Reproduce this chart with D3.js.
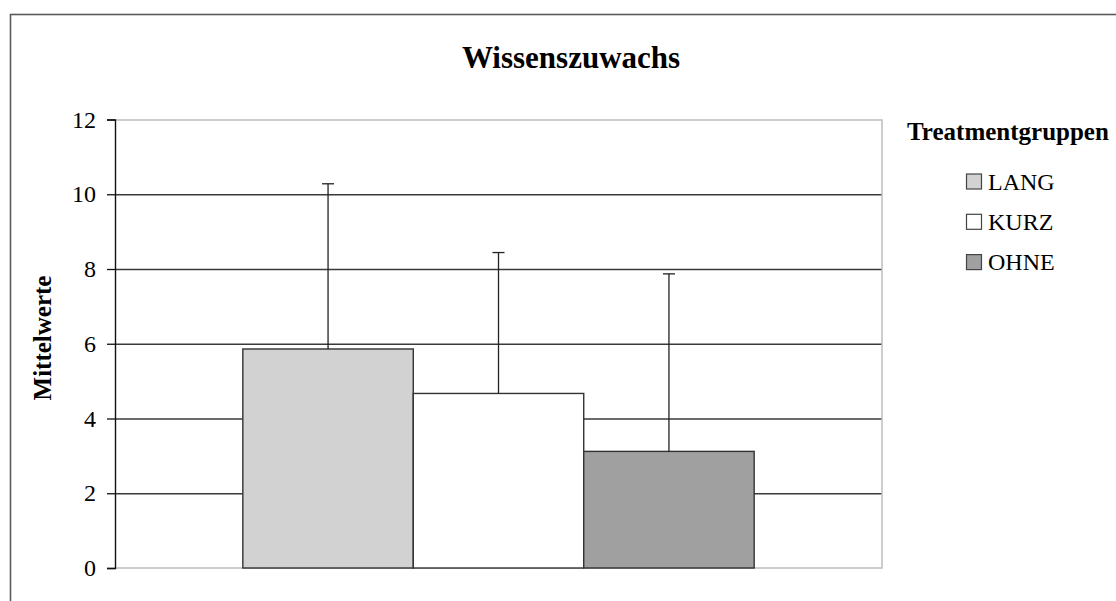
<!DOCTYPE html>
<html>
<head>
<meta charset="utf-8">
<script src="https://cdn.jsdelivr.net/npm/d3@7"></script>
<style>
  body { margin: 0; background: #fff; }
  svg { display: block; font-family: "Liberation Serif", "Times New Roman", serif; }
</style>
</head>
<body>
<script>
// Data
const groups = ["LANG", "KURZ", "OHNE"];
const means = [5.86, 4.67, 3.12];
const sdUpper = [10.28, 8.44, 7.87];
const fills = ["#d2d2d2", "#ffffff", "#a0a0a0"];
const yTicks = [0, 2, 4, 6, 8, 10, 12];

const W = 1116, H = 601;
const margin = {top: 119.5, right: 234, bottom: 33, left: 115};
const width = W - margin.left - margin.right,
      height = H - margin.top - margin.bottom;

const svg = d3.select("body").append("svg")
              .attr("width", W)
              .attr("height", H);

// outer chart frame (runs off the right and bottom of the picture)
svg.append("rect")
   .attr("x", 10.5).attr("y", 14.5)
   .attr("width", W + 20).attr("height", H + 20)
   .attr("fill", "none")
   .attr("stroke", "#5a5a5a")
   .attr("stroke-width", 1.6);

const g = svg.append("g")
             .attr("transform", `translate(${margin.left},${margin.top})`);

let yScale = d3.scaleLinear()
               .domain([0, 12])
               .range([height, 0]);

let x0 = d3.scaleBand()
           .domain(["Wissenszuwachs"])
           .range([0, width])
           .paddingInner(0)
           .paddingOuter(0.25);

let x1 = d3.scaleBand()
           .domain(groups)
           .range([0, x0.bandwidth()]);

// gridlines
let grid = g.append("g")
            .call(d3.axisLeft(yScale).tickValues(yTicks.slice(1, -1)).tickSize(-width).tickFormat(""));
grid.select(".domain").remove();
grid.selectAll(".tick line")
    .attr("stroke", "#3a3a3a")
    .attr("stroke-width", 1.3);

// plot border (top, right, bottom in grey)
g.append("path")
 .attr("d", `M0,0.5H${width}V${height}H0`)
 .attr("fill", "none")
 .attr("stroke", "#bdbdbd")
 .attr("stroke-width", 1.5);

// bars
const bx = x0("Wissenszuwachs");
g.selectAll("rect.bar")
 .data(groups)
 .join("rect")
 .attr("class", "bar")
 .attr("x", d => bx + x1(d))
 .attr("width", x1.bandwidth())
 .attr("y", (d, i) => yScale(means[i]))
 .attr("height", (d, i) => height - yScale(means[i]))
 .attr("fill", (d, i) => fills[i])
 .attr("stroke", "#333")
 .attr("stroke-width", 1.4);

// error bars (upper only)
const err = g.selectAll("g.err")
             .data(groups)
             .join("g")
             .attr("class", "err");
err.append("line")
   .attr("x1", d => bx + x1(d) + x1.bandwidth() / 2)
   .attr("x2", d => bx + x1(d) + x1.bandwidth() / 2)
   .attr("y1", (d, i) => yScale(means[i]))
   .attr("y2", (d, i) => yScale(sdUpper[i]))
   .attr("stroke", "#222")
   .attr("stroke-width", 1.3);
err.append("line")
   .attr("x1", d => bx + x1(d) + x1.bandwidth() / 2 - 6)
   .attr("x2", d => bx + x1(d) + x1.bandwidth() / 2 + 6)
   .attr("y1", (d, i) => yScale(sdUpper[i]))
   .attr("y2", (d, i) => yScale(sdUpper[i]))
   .attr("stroke", "#222")
   .attr("stroke-width", 1.3);

// y axis
let yAxis = g.append("g")
             .call(d3.axisLeft(yScale).tickValues(yTicks).tickSize(8).tickPadding(11));
yAxis.select(".domain")
     .attr("stroke", "#111")
     .attr("stroke-width", 1.4);
yAxis.selectAll(".tick line")
     .attr("stroke", "#111")
     .attr("stroke-width", 1.3);
yAxis.selectAll(".tick text")
     .attr("font-size", 24)
     .attr("font-family", "Liberation Serif, serif")
     .attr("fill", "#000");

// title
svg.append("text")
   .attr("x", 571).attr("y", 68)
   .attr("text-anchor", "middle")
   .attr("font-size", 31)
   .attr("font-weight", "bold")
   .text("Wissenszuwachs");

// y label
svg.append("text")
   .attr("transform", "translate(51,338) rotate(-90)")
   .attr("text-anchor", "middle")
   .attr("font-size", 25)
   .attr("font-weight", "bold")
   .text("Mittelwerte");

// legend
const legend = svg.append("g");
legend.append("text")
      .attr("x", 907).attr("y", 139.5)
      .attr("font-size", 25)
      .attr("font-weight", "bold")
      .text("Treatmentgruppen");

const item = legend.selectAll("g.item")
                   .data(groups)
                   .join("g")
                   .attr("class", "item")
                   .attr("transform", (d, i) => `translate(966,${189.5 + i * 40.3})`);
item.append("rect")
    .attr("x", 0.5).attr("y", -15.5)
    .attr("width", 15).attr("height", 15)
    .attr("fill", (d, i) => fills[i])
    .attr("stroke", "#444")
    .attr("stroke-width", 1.2);
item.append("text")
    .attr("x", 22).attr("y", 0)
    .attr("font-size", 24)
    .text(d => d);
</script>
</body>
</html>
